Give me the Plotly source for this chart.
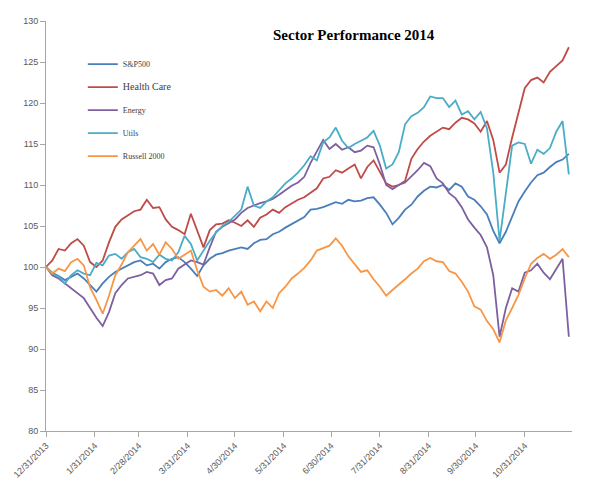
import plotly.graph_objects as go
import pandas as pd

# Sampling dates (every 4 calendar days from 12/31/2013)
dates = pd.date_range("2013-12-31", periods=84, freq="4D")

sp500 = [100, 99.3, 98.9, 98.4, 98.8, 99.2, 98.6, 97.8, 97.0, 98.0,
         98.8, 99.4, 99.8, 100.2, 100.6, 100.8, 100.2, 100.4, 99.8, 100.6,
         101.0, 101.2, 100.6, 99.8, 98.9, 100.2, 101.0, 101.5, 101.7, 102.0,
         102.2, 102.4, 102.2, 102.9, 103.3, 103.4, 104.0, 104.3, 104.8, 105.2,
         105.7, 106.1, 107.0, 107.1, 107.3, 107.6, 107.9, 107.7, 108.2, 108.0,
         108.1, 108.4, 108.5, 107.6, 106.6, 105.2, 106.0, 107.0, 107.6, 108.6,
         109.3, 109.8, 109.7, 110.0, 109.4, 110.2, 109.8, 108.6, 108.2, 107.4,
         106.4, 104.4, 102.9, 104.3, 106.2, 108.0, 109.2, 110.3, 111.2, 111.5,
         112.2, 112.8, 113.1, 113.8]

health_care = [100, 100.8, 102.2, 102.0, 102.9, 103.4, 102.6, 100.6, 100.0, 100.8,
               103.0, 104.9, 105.8, 106.3, 106.8, 107.0, 108.2, 107.2, 107.3, 105.8,
               104.9, 104.5, 104.0, 106.5, 104.5, 102.4, 104.5, 105.2, 105.3, 105.7,
               105.4, 105.0, 105.7, 104.9, 106.0, 106.4, 107.0, 106.6, 107.3, 107.8,
               108.2, 108.5, 109.1, 109.6, 110.8, 111.0, 111.8, 111.5, 112.0, 112.5,
               110.8, 112.2, 113.0, 111.5, 110.2, 109.8, 110.0, 110.5, 113.2, 114.4,
               115.3, 116.0, 116.5, 117.0, 116.8, 117.6, 118.2, 118.0, 117.5, 116.5,
               117.8, 115.5, 111.5, 112.5, 115.8, 118.8, 121.8, 122.8, 123.1, 122.5,
               123.8, 124.5, 125.2, 126.8]

energy = [100, 99.0, 98.6, 98.0, 97.5, 96.8, 96.2, 95.0, 93.8, 92.8,
          94.5, 96.8, 97.8, 98.6, 98.8, 99.0, 99.4, 99.2, 97.8, 98.4,
          98.6, 99.8, 100.3, 100.8, 100.6, 100.3, 102.4, 104.3, 104.9, 105.3,
          105.8, 106.6, 107.2, 107.5, 107.8, 108.0, 108.3, 108.8, 109.4, 109.9,
          110.3, 111.0, 112.7, 114.2, 115.5, 114.4, 115.0, 114.3, 114.6, 114.0,
          114.2, 114.8, 114.6, 112.5, 110.0, 109.5, 110.0, 110.3, 111.0, 111.8,
          112.7, 112.3, 110.8, 110.2, 109.0, 108.4, 107.3, 105.8, 104.8, 103.9,
          102.4, 99.0, 91.5, 95.0, 97.4, 97.0, 99.3, 99.6, 100.4, 99.3,
          98.5, 99.8, 101.0, 91.5]

utils = [100, 99.2, 98.8, 98.0, 99.0, 99.6, 99.2, 99.0, 100.5, 100.2,
         101.4, 101.6, 101.0, 101.8, 102.2, 101.2, 101.0, 100.6, 101.5, 101.0,
         100.8, 101.8, 103.8, 102.8, 100.8, 102.0, 103.2, 104.2, 105.0, 105.5,
         106.2, 107.0, 109.8, 107.5, 107.2, 108.0, 108.5, 109.3, 110.2, 110.8,
         111.5, 112.4, 113.5, 113.0, 115.2, 115.8, 117.0, 115.4, 114.5, 115.0,
         115.4, 115.8, 116.6, 114.8, 112.0, 112.5, 114.0, 117.4, 118.4, 118.8,
         119.5, 120.8, 120.6, 120.6, 119.5, 120.3, 118.6, 119.0, 118.0, 118.9,
         116.9, 111.5, 103.2, 109.0, 114.8, 115.2, 115.0, 112.6, 114.3, 113.8,
         114.5, 116.5, 117.8, 111.3]

russell2000 = [100, 99.2, 99.8, 99.5, 100.6, 101.0, 100.2, 97.5, 96.0, 94.3,
               96.5, 99.0, 100.3, 101.8, 102.6, 103.4, 102.0, 102.8, 101.5, 103.0,
               102.2, 101.0, 101.5, 102.0, 99.6, 97.6, 97.0, 97.2, 96.5, 97.4,
               96.2, 97.0, 95.4, 95.8, 94.6, 95.8, 95.0, 96.8, 97.6, 98.6,
               99.2, 99.9, 100.8, 102.0, 102.3, 102.6, 103.5, 102.6, 101.3, 100.3,
               99.4, 99.6, 98.5, 97.6, 96.5, 97.2, 97.8, 98.5, 99.2, 99.8,
               100.7, 101.1, 100.7, 100.6, 99.5, 99.2, 98.2, 97.0, 95.2, 94.8,
               93.4, 92.4, 90.8, 93.5, 95.0, 96.6, 98.6, 100.4, 101.1, 101.6,
               101.0, 101.5, 102.2, 101.2]

series_names = ["S&P500", "Health Care", "Energy", "Utils", "Russell 2000"]
series_values = [sp500, health_care, energy, utils, russell2000]
series_colors = ["#4A7EBB", "#BE4B48", "#7D60A0", "#4BACC6", "#F79646"]
legend_labels = ["S&P500",
                 "<span style='font-size:10px'>Health Care</span>",
                 "Energy", "Utils", "Russell 2000"]

tick_dates = ["2013-12-31", "2014-01-31", "2014-02-28", "2014-03-31", "2014-04-30",
              "2014-05-31", "2014-06-30", "2014-07-31", "2014-08-31", "2014-09-30",
              "2014-10-31"]
tick_labels = ["12/31/2013", "1/31/2014", "2/28/2014", "3/31/2014", "4/30/2014",
               "5/31/2014", "6/30/2014", "7/31/2014", "8/31/2014", "9/30/2014",
               "10/31/2014"]
y_ticks = [80, 85, 90, 95, 100, 105, 110, 115, 120, 125, 130]

fig = go.Figure()
for name, vals, col, lab in zip(series_names, series_values, series_colors, legend_labels):
    fig.add_trace(go.Scatter(
        x=dates, y=vals, mode="lines", name=lab, legendgroup=name,
        line=dict(color=col, width=1.8),
    ))

axis_color = "#A6A6A6"
tick_font = dict(family="Liberation Sans, Arial, sans-serif", size=9, color="#595959")

fig.update_layout(
    width=613, height=500,
    margin=dict(l=42, r=41, t=21, b=69),
    paper_bgcolor="white", plot_bgcolor="white",
    title=dict(text="<b>Sector Performance 2014</b>",
               font=dict(family="Liberation Serif, Times New Roman, serif", size=15, color="#000000"),
               x=0.585, xref="paper", xanchor="center", y=0.93, yanchor="middle"),
    showlegend=True,
    legend=dict(x=0.07, xanchor="left", y=0.93, yanchor="top",
                bgcolor="rgba(0,0,0,0)", tracegroupgap=4,
                font=dict(family="Liberation Serif, Times New Roman, serif", size=8, color="#404040")),
    xaxis=dict(type="date", range=["2013-12-31", "2014-11-30"],
               tickmode="array", tickvals=tick_dates, ticktext=tick_labels,
               tickangle=-45, ticks="outside", ticklen=5, tickcolor=axis_color,
               showline=True, linecolor=axis_color, linewidth=1,
               showgrid=False, zeroline=False, tickfont=tick_font),
    yaxis=dict(range=[80, 130], tickmode="array", tickvals=y_ticks,
               ticks="outside", ticklen=5, tickcolor=axis_color,
               showline=True, linecolor=axis_color, linewidth=1,
               showgrid=False, zeroline=False, tickfont=tick_font),
)

fig.write_html("out.html")
